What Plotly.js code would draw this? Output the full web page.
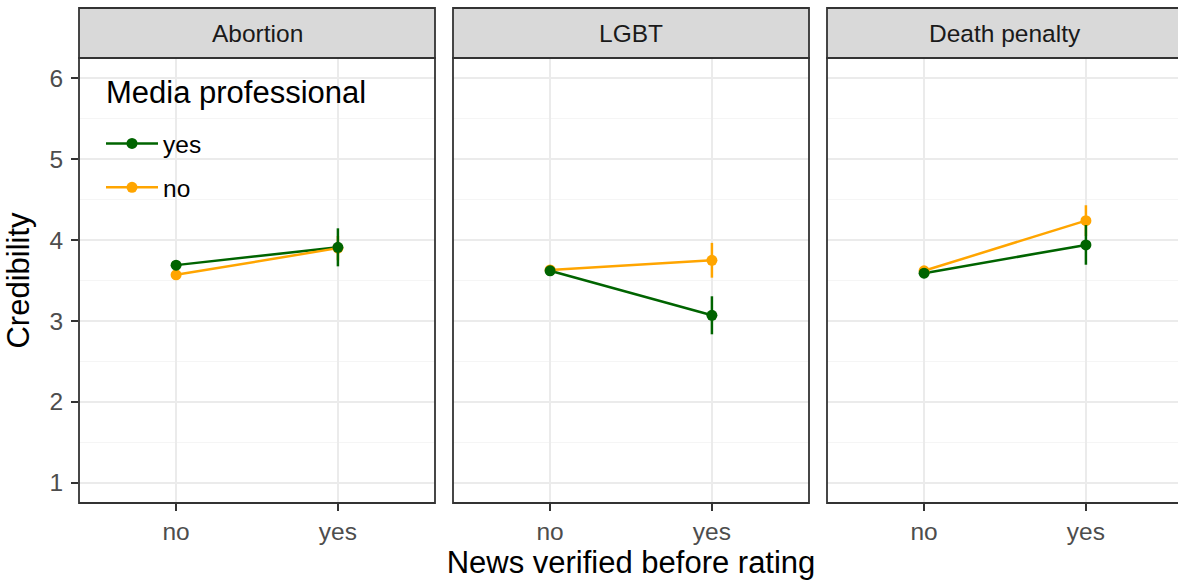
<!DOCTYPE html>
<html><head>
<script src="https://cdn.plot.ly/plotly-3.0.1.min.js"></script>
<style>body{margin:0;background:#fff}</style>
</head><body>
<div id="chart" style="width:1178px;height:580px"></div>
<script>
// ---- data ----
const categories = ['no', 'yes'];
const topics = ['Abortion', 'LGBT', 'Death penalty'];
const groups = ['yes', 'no'];               // Media professional
const legendTitle = 'Media professional';
// mean credibility per topic [no, yes]
const proYesMean = [[3.69, 3.91], [3.62, 3.07], [3.59, 3.94]];
const proYesErr  = [[0.06, 0.235], [0.06, 0.235], [0.06, 0.245]];
const proNoMean  = [[3.57, 3.90], [3.63, 3.75], [3.62, 4.24]];
const proNoErr   = [[0.05, 0.15], [0.05, 0.215], [0.05, 0.19]];
const yTicks = [1, 2, 3, 4, 5, 6];

// ---- style ----
const W = 1178, H = 580;
const GREEN = '#006400', ORANGE = '#FFA500';
const FONT = 'Liberation Sans, Arial, Helvetica, sans-serif';
const panelsPx = [[79, 435], [453, 809], [827, 1178]];
const pxPerUnit = (435 - 79) / 2.2;
const mT = 58, mB = 77, plotH = H - mT - mB;
const stripTop = 8;

const data = [];
// legend entries
data.push({x: [null], y: [null], name: groups[0], mode: 'lines+markers', legendgroup: 'g1',
  line: {color: GREEN, width: 2.5}, marker: {color: GREEN, size: 11}, xaxis: 'x', yaxis: 'y'});
data.push({x: [null], y: [null], name: groups[1], mode: 'lines+markers', legendgroup: 'g2',
  line: {color: ORANGE, width: 2.5}, marker: {color: ORANGE, size: 11}, xaxis: 'x', yaxis: 'y'});

topics.forEach((t, i) => {
  const s = i === 0 ? '' : String(i + 1);
  const common = {x: categories, xaxis: 'x' + s, yaxis: 'y' + s, showlegend: false, hoverinfo: 'skip'};
  data.push(Object.assign({}, common, {y: proYesMean[i], mode: 'lines', line: {color: GREEN, width: 2.5}}));
  data.push(Object.assign({}, common, {y: proNoMean[i], mode: 'lines', line: {color: ORANGE, width: 2.5}}));
  data.push(Object.assign({}, common, {y: proNoMean[i], mode: 'markers', marker: {color: ORANGE, size: 11},
    error_y: {type: 'data', array: proNoErr[i], width: 0, thickness: 2.5, color: ORANGE}}));
  data.push(Object.assign({}, common, {y: proYesMean[i], mode: 'markers', marker: {color: GREEN, size: 11},
    error_y: {type: 'data', array: proYesErr[i], width: 0, thickness: 2.5, color: GREEN}}));
});

const layout = {
  width: W, height: H,
  margin: {l: 0, r: 0, t: mT, b: mB},
  paper_bgcolor: '#fff', plot_bgcolor: '#fff',
  font: {family: FONT, size: 24.5, color: '#4D4D4D'},
  showlegend: true,
  legend: {
    x: 101 / W, y: 1 - (121 - mT) / plotH, xanchor: 'left', yanchor: 'top',
    bgcolor: 'rgba(0,0,0,0)', tracegroupgap: 9, itemwidth: 52,
    font: {family: FONT, size: 24.5, color: '#000'}
  },
  shapes: [],
  annotations: [{xref: 'paper', yref: 'paper', x: 104 / W, y: 1 - (93 - mT) / plotH, xanchor: 'left', yanchor: 'middle',
    text: legendTitle, showarrow: false, font: {family: FONT, size: 31, color: '#000'}}]
};

panelsPx.forEach((p, i) => {
  const s = i === 0 ? '' : String(i + 1);
  const width = p[1] - p[0];
  const xr = [-0.6, -0.6 + width / pxPerUnit];
  layout['xaxis' + s] = {
    domain: [p[0] / W, p[1] / W], type: 'category', categoryorder: 'array', categoryarray: categories,
    range: xr, showgrid: true, gridcolor: '#EBEBEB', gridwidth: 1.5, zeroline: false, showline: false,
    ticks: 'outside', ticklen: 7, tickwidth: 1.5, tickcolor: '#333333',
    tickfont: {family: FONT, size: 24.5, color: '#4D4D4D'}, anchor: 'y' + s, automargin: false, fixedrange: true
  };
  layout['yaxis' + s] = {
    domain: [0, 1], range: [0.75, 6.25], tickvals: yTicks, showgrid: true, gridcolor: '#EBEBEB', gridwidth: 1.5,
    minor: {tickvals: [1.5, 2.5, 3.5, 4.5, 5.5], showgrid: true, gridcolor: '#F2F2F2', gridwidth: 0.8, ticks: ''},
    zeroline: false, showline: false, anchor: 'x' + s, automargin: false, fixedrange: true,
    ticks: i === 0 ? 'outside' : '', ticklen: 7, tickwidth: 1.5, tickcolor: '#333333',
    showticklabels: i === 0, ticklabelstandoff: 3,
    tickfont: {family: FONT, size: 24.5, color: '#4D4D4D'}
  };
  const x0 = p[0] / W, x1 = (i === 2 ? p[1] + 6 : p[1]) / W;
  // panel border
  layout.shapes.push({type: 'rect', xref: 'paper', yref: 'paper', x0: x0, x1: x1, y0: 0, y1: 1,
    line: {color: '#333333', width: 1.8}, fillcolor: 'rgba(0,0,0,0)', layer: 'above'});
  // strip
  layout.shapes.push({type: 'rect', xref: 'paper', yref: 'paper', x0: x0, x1: x1, y0: 1, y1: 1 + (mT - stripTop) / plotH,
    line: {color: '#333333', width: 1.8}, fillcolor: '#D9D9D9', layer: 'above'});
  layout.annotations.push({xref: 'paper', yref: 'paper', x: (p[0] + (i === 2 ? 1182 : p[1])) / 2 / W,
    y: 1 + (mT - stripTop) / 2 / plotH, text: topics[i], showarrow: false, xanchor: 'center', yanchor: 'middle',
    font: {family: FONT, size: 24.5, color: '#1A1A1A'}});
});

layout.yaxis.title = {text: 'Credibility', font: {family: FONT, size: 31, color: '#000'}, standoff: 10};
layout.xaxis2.title = {text: 'News verified before rating', font: {family: FONT, size: 31, color: '#000'}, standoff: 8};

Plotly.newPlot('chart', data, layout, {displayModeBar: false, staticPlot: true});
</script>
</body></html>
